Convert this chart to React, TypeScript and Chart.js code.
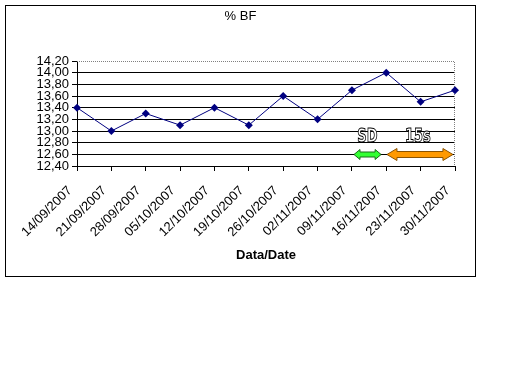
import React, { useEffect, useRef } from 'react';
import { Chart, registerables } from 'chart.js';

Chart.register(...registerables);

const categories = ['14/09/2007', '21/09/2007', '28/09/2007', '05/10/2007', '12/10/2007', '19/10/2007', '26/10/2007', '02/11/2007', '09/11/2007', '16/11/2007', '23/11/2007', '30/11/2007'];
const bfValues = [13.4, 13.0, 13.3, 13.1, 13.4, 13.1, 13.6, 13.2, 13.7, 14.0, 13.5, 13.7];
const yMin = 12.4;
const yMax = 14.2;
const yStep = 0.2;
const chartTitle = '% BF';
const xAxisTitle = 'Data/Date';
const noteLabels = ['SD', '15s'];
const notePositions = [8.45, 9.92];
const noteLevel = 12.9;
const arrowStarts = [8.06, 9.02];
const arrowEnds = [8.85, 10.94];
const arrowLevel = 12.6;

const FONT = "'Liberation Sans', Arial, sans-serif";

function drawDoubleArrow(ctx: CanvasRenderingContext2D, x1: number, x2: number, y: number, headHalf: number, shaftHalf: number, headLen: number, fill: string, stroke: string) {
  ctx.beginPath();
  ctx.moveTo(x1, y);
  ctx.lineTo(x1 + headLen, y - headHalf);
  ctx.lineTo(x1 + headLen, y - shaftHalf);
  ctx.lineTo(x2 - headLen, y - shaftHalf);
  ctx.lineTo(x2 - headLen, y - headHalf);
  ctx.lineTo(x2, y);
  ctx.lineTo(x2 - headLen, y + headHalf);
  ctx.lineTo(x2 - headLen, y + shaftHalf);
  ctx.lineTo(x1 + headLen, y + shaftHalf);
  ctx.lineTo(x1 + headLen, y + headHalf);
  ctx.closePath();
  ctx.fillStyle = fill;
  ctx.fill();
  ctx.lineWidth = 1;
  ctx.strokeStyle = stroke;
  ctx.stroke();
}

const decorPlugin = {
  id: 'decor',
  beforeDatasetsDraw(chart: any) {
    const { ctx, chartArea } = chart;
    ctx.save();
    ctx.strokeStyle = '#808080';
    ctx.lineWidth = 1;
    ctx.setLineDash([1, 1]);
    ctx.beginPath();
    ctx.moveTo(chartArea.left, chartArea.top + 0.5);
    ctx.lineTo(chartArea.right - 0.5, chartArea.top + 0.5);
    ctx.lineTo(chartArea.right - 0.5, chartArea.bottom);
    ctx.stroke();
    ctx.restore();
  },
  afterDraw(chart: any) {
    const { ctx } = chart;
    const xs = chart.scales.x;
    const ys = chart.scales.y;
    ctx.save();
    ctx.font = `13px ${FONT}`;
    ctx.fillStyle = '#000';
    ctx.textAlign = 'center';
    ctx.textBaseline = 'middle';
    ctx.fillText(chartTitle, chart.width / 2, 10);
    const ay = Math.round(ys.getPixelForValue(arrowLevel)) + 0.5;
    const styles = [
      { headHalf: 5, shaftHalf: 2.5, headLen: 6, fill: '#33FF33', stroke: '#1a6a1a' },
      { headHalf: 6, shaftHalf: 3, headLen: 10, fill: '#FF9900', stroke: '#8a5200' },
    ];
    arrowStarts.forEach((s, i) => {
      const st = styles[i];
      drawDoubleArrow(ctx, xs.getPixelForValue(s), xs.getPixelForValue(arrowEnds[i]), ay, st.headHalf, st.shaftHalf, st.headLen, st.fill, st.stroke);
    });
    ctx.font = `bold 20px 'Liberation Sans Narrow', 'DejaVu Sans Condensed', sans-serif`;
    ctx.textAlign = 'center';
    ctx.textBaseline = 'middle';
    ctx.lineWidth = 1;
    ctx.strokeStyle = '#000';
    ctx.fillStyle = '#fff';
    const ny = ys.getPixelForValue(noteLevel);
    noteLabels.forEach((t, i) => {
      const nx = xs.getPixelForValue(notePositions[i]);
      ctx.save();
      ctx.translate(nx, ny);
      ctx.scale(0.72, 1);
      ctx.fillText(t, 0, 0);
      ctx.strokeText(t, 0, 0);
      ctx.restore();
    });
    ctx.restore();
  },
};

export default function App() {
  const ref = useRef<HTMLCanvasElement | null>(null);
  useEffect(() => {
    if (!ref.current) return;
    const chart = new Chart(ref.current, {
      type: 'line',
      data: {
        labels: categories,
        datasets: [
          {
            data: bfValues,
            borderColor: '#000080',
            backgroundColor: '#000080',
            borderWidth: 1,
            pointStyle: 'rectRot',
            pointRadius: 4,
            pointBorderWidth: 0,
            pointBackgroundColor: '#000080',
            tension: 0,
            clip: false,
          } as any,
        ],
      },
      options: {
        animation: false,
        responsive: false,
        devicePixelRatio: 1,
        layout: { padding: { top: 55, right: 20, bottom: 0, left: 0 } },
        plugins: {
          legend: { display: false },
          title: { display: false },
          tooltip: { enabled: false },
        },
        scales: {
          x: {
            offset: false,
            afterFit: (s: any) => { s.height = 110; s.paddingRight = 0; s.paddingLeft = 0; },
            grid: { drawOnChartArea: false, drawTicks: true, tickLength: 5, tickColor: '#000', offset: false },
            border: { display: true, color: '#000', width: 1 },
            ticks: {
              autoSkip: false,
              maxRotation: 45,
              minRotation: 45,
              padding: 12,
              labelOffset: -7,
              color: '#000',
              font: { family: FONT, size: 13 },
            },
            title: {
              display: true,
              text: xAxisTitle,
              color: '#000',
              font: { family: FONT, size: 13, weight: 'bold' },
              padding: { top: 0, bottom: 13 },
            },
          },
          y: {
            min: yMin,
            max: yMax,
            afterFit: (s: any) => { s.width = 71; },
            grid: {
              drawTicks: true,
              tickLength: 5,
              tickColor: '#000',
              color: (c: any) => (c.tick && Math.abs(c.tick.value - yMax) < 1e-6 ? 'rgba(0,0,0,0)' : '#000'),
            },
            border: { display: true, color: '#000', width: 1 },
            ticks: {
              stepSize: yStep,
              autoSkip: false,
              padding: 3,
              color: '#000',
              font: { family: FONT, size: 13 },
              callback: (v: any) => Number(v).toFixed(2).replace('.', ','),
            },
          },
        },
      } as any,
      plugins: [decorPlugin],
    });
    return () => chart.destroy();
  }, []);
  return (
    <div style={{ position: 'absolute', left: 5, top: 5, width: 469, height: 270, border: '1px solid #000', background: '#fff' }}>
      <canvas ref={ref} width={469} height={270} style={{ display: 'block' }} />
    </div>
  );
}
